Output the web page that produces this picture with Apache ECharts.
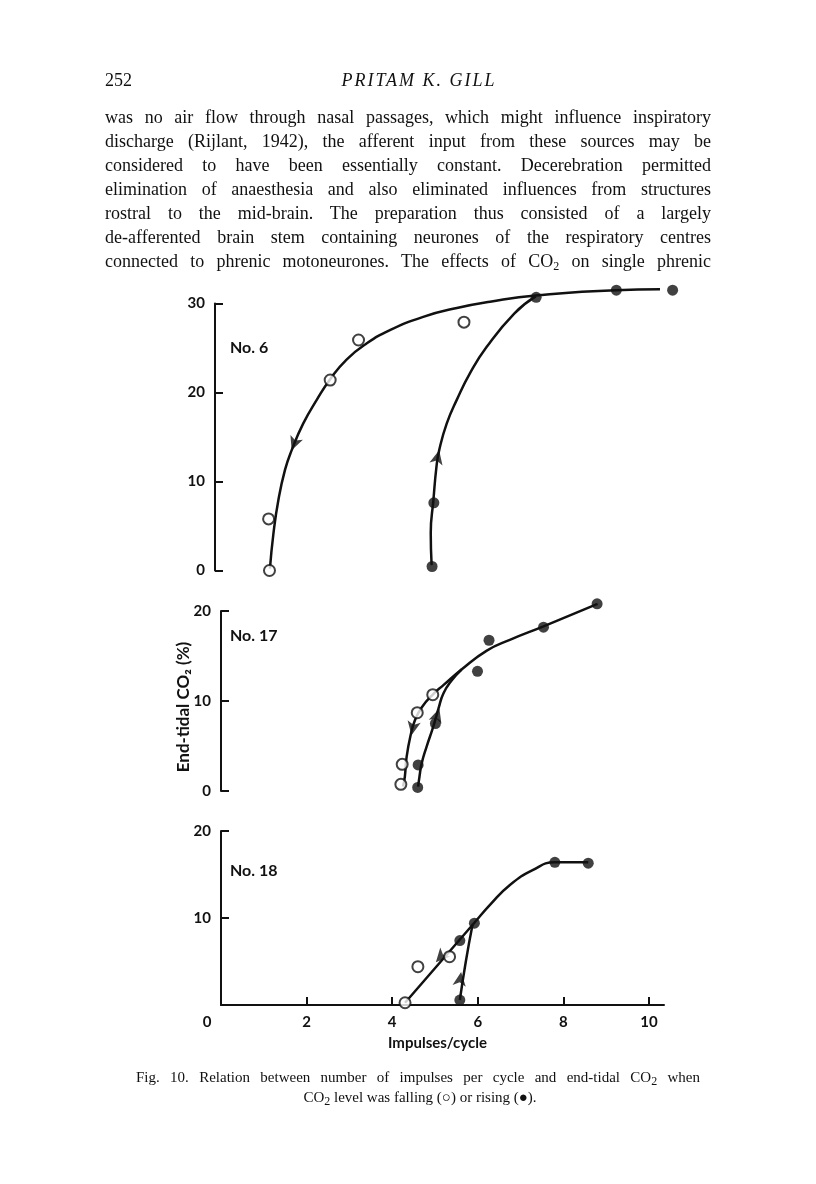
<!DOCTYPE html>
<html>
<head>
<meta charset="utf-8">
<title>Fig. 10</title>
<script src="https://cdn.jsdelivr.net/npm/echarts@6/dist/echarts.min.js"></script>
<style>
body { margin: 0; background: #fff; }
#page { position: relative; width: 816px; height: 1184px; background: #fff; color: #111;
        font-family: "Liberation Serif", "DejaVu Serif", serif; }
#chart { position: absolute; left: 0; top: 0; width: 816px; height: 1184px; }
.txt { position: absolute; font-size: 18px; line-height: 24px; height: 24px; }
.ln { left: 105px; width: 606px; text-align: justify; text-align-last: justify; }
.cap { font-size: 15px; line-height: 20px; height: 20px; }
.sub { font-size: 12px; position: relative; top: 3px; }
</style>
</head>
<body>
<div id="page">
    <div id="chart"></div>
    <div class="txt" style="left:105px;top:68px">252</div>
    <div class="txt" style="left:319px;top:68px;width:200px;text-align:center;font-style:italic;letter-spacing:2px">PRITAM K. GILL</div>
    <div class="txt ln" style="top:105px">was no air flow through nasal passages, which might influence inspiratory</div>
    <div class="txt ln" style="top:129px">discharge (Rijlant, 1942), the afferent input from these sources may be</div>
    <div class="txt ln" style="top:153px">considered to have been essentially constant. Decerebration permitted</div>
    <div class="txt ln" style="top:177px">elimination of anaesthesia and also eliminated influences from structures</div>
    <div class="txt ln" style="top:201px">rostral to the mid-brain. The preparation thus consisted of a largely</div>
    <div class="txt ln" style="top:225px">de-afferented brain stem containing neurones of the respiratory centres</div>
    <div class="txt ln" style="top:249px">connected to phrenic motoneurones. The effects of CO<span class="sub">2</span> on single phrenic</div>
    <div class="txt cap" style="left:136px;top:1067px;width:564px;text-align:justify;text-align-last:justify">Fig. 10. Relation between number of impulses per cycle and end-tidal CO<span class="sub">2</span> when</div>
    <div class="txt cap" style="left:220px;top:1087px;width:400px;text-align:center">CO<span class="sub">2</span> level was falling (&#9675;) or rising (&#9679;).</div>
</div>

<script>
// impulses/cycle (x) vs end-tidal CO2 % (y)

const xTickValues = [2, 4, 6, 8, 10];
const xLabelValues = [0, 2, 4, 6, 8, 10];
const yLabels6 = [0, 10, 20, 30];
const yLabels17 = [0, 10, 20];
const yLabels18 = [10, 20];
const panelNames = ['No. 6', 'No. 17', 'No. 18'];

// No. 6
const fall6 = [[1.23, 0], [1.21, 5.8], [2.60, 21.4], [3.24, 25.9], [5.62, 27.9]];
const rise6 = [[4.90, 0.45], [4.94, 7.6], [7.25, 30.7], [9.06, 31.5], [10.33, 31.5]];
const fallFit6 = [[10.31, 31.6], [9.05, 31.5], [7.24, 30.9], [6.21, 30.2], [5.46, 29.5], [4.70, 28.5],
    [3.95, 27.0], [3.42, 25.5], [2.97, 23.7], [2.60, 21.5], [2.30, 19.2], [1.99, 16.5], [1.73, 13.5],
    [1.58, 11.3], [1.43, 7.9], [1.32, 4.2], [1.24, 0.2]];
const riseFit6 = [[4.89, 0.6], [4.87, 4.2], [4.93, 7.9], [5.00, 11.7], [5.06, 13.5], [5.23, 16.5],
    [5.46, 19.2], [5.76, 22.2], [6.13, 25.1], [6.76, 28.9], [7.24, 30.8]];
const arrows6 = [[1.73, 13.5], [5.06, 13.5]];

// No. 17
const fall17 = [[4.06, 0.74], [4.09, 2.96], [4.43, 8.7], [4.78, 10.7]];
const rise17 = [[4.44, 0.4], [4.45, 2.9], [4.84, 7.5], [5.79, 13.3], [6.05, 16.75], [7.28, 18.2], [8.49, 20.8]];
const fallFit17 = [[8.50, 20.8], [7.28, 18.3], [6.52, 16.8], [6.00, 15.6], [5.43, 13.5], [5.02, 11.76],
    [4.79, 10.76], [4.53, 9.28], [4.38, 7.88], [4.28, 6.2], [4.19, 3.8], [4.15, 1.6], [4.11, 0.5]];
const riseFit17 = [[4.45, 0.48], [4.48, 1.59], [4.53, 3.07], [4.64, 4.91], [4.79, 7.13], [4.91, 9.17],
    [5.02, 10.84], [5.21, 12.3], [5.43, 13.5]];
const arrows17 = [[4.30, 6.2], [4.93, 9.17]];

// No. 18
const fall18 = [[4.30, 0.26], [4.60, 4.4], [5.34, 5.55]];
const rise18 = [[5.58, 0.57], [5.58, 7.4], [5.92, 9.4], [7.80, 16.4], [8.58, 16.3]];
const fallFit18 = [[8.58, 16.4], [7.80, 16.4], [7.28, 15.5], [6.75, 13.8], [6.30, 11.6], [5.91, 9.4],
    [5.10, 4.8], [4.30, 0.26]];
const riseFit18 = [[5.58, 0.57], [5.72, 5.0], [5.88, 9.3]];
const arrows18 = [[5.02, 4.9], [5.61, 3.8]];

const ink = '#111';
const arrowTurn = [[159, -13], [169, -18], [138, -8]];

const grids = [
    { left: 215, top: 303.5, width: 443, height: 267 },
    { left: 221, top: 611, width: 443, height: 180 },
    { left: 221, top: 831, width: 443, height: 174 }
];

const labelFont = { color: ink, fontFamily: 'Lato, "DejaVu Sans", sans-serif', fontWeight: 'bold', fontSize: 15 };

const yAxis = [[30, yLabels6], [20, yLabels17], [20, yLabels18]].map(([max, labels], i) => ({
    type: 'value', gridIndex: i, min: 0, max: max, interval: 10,
    axisLine: { show: true, lineStyle: { color: ink, width: 2 } },
    axisTick: { show: true, inside: true, length: 8, lineStyle: { color: ink, width: 2 } },
    axisLabel: Object.assign({ margin: 10, customValues: labels }, labelFont),
    splitLine: { show: false }
}));
yAxis[1].name = 'End-tidal CO\u2082 (%)';
yAxis[1].nameLocation = 'middle';
yAxis[1].nameGap = 29;
yAxis[1].nameMoveOverlap = false;
yAxis[1].nameTextStyle = Object.assign({}, labelFont, { fontSize: 17, padding: [0, 12, 0, 0] });

const xAxis = [0, 1].map(i => ({ type: 'value', gridIndex: i, min: 0, max: 10, show: false }));
xAxis.push({
    type: 'value', gridIndex: 2, min: 0, max: 10.35, interval: 2,
    axisLine: { show: true, onZero: false, lineStyle: { color: ink, width: 2 } },
    axisTick: { show: true, inside: true, length: 8, customValues: xTickValues, lineStyle: { color: ink, width: 2 } },
    axisLabel: Object.assign({
        margin: 10, customValues: xLabelValues,
        formatter: v => v === 0 ? '{z|0}' : String(v),
        rich: { z: Object.assign({ padding: [0, 28, 0, 0] }, labelFont) }
    }, labelFont),
    splitLine: { show: false },
    name: 'Impulses/cycle', nameLocation: 'middle', nameGap: 31, nameMoveOverlap: false,
    nameTextStyle: Object.assign({ padding: [0, 10, 0, 0] }, labelFont)
});

const panels = [
    [fall6, rise6, fallFit6, riseFit6, arrows6],
    [fall17, rise17, fallFit17, riseFit17, arrows17],
    [fall18, rise18, fallFit18, riseFit18, arrows18]
];

let series = [];
panels.forEach(([fall, rise, fallFit, riseFit, arrows], i) => {
    const ax = { xAxisIndex: i, yAxisIndex: i, clip: false, silent: true };
    [fallFit, riseFit].forEach(fit => series.push(Object.assign({
        type: 'line', data: fit, smooth: 0.5, symbol: 'none', z: 2,
        lineStyle: { color: ink, width: 2.5 }
    }, ax)));
    series.push(Object.assign({
        type: 'scatter', data: arrows.map((p, k) => ({ value: p, symbolRotate: arrowTurn[i][k] })),
        symbol: 'arrow', symbolSize: [10, 14], itemStyle: { color: ink }, z: 3
    }, ax));
    series.push(Object.assign({
        type: 'scatter', data: fall, symbol: 'circle', symbolSize: 11, z: 4,
        itemStyle: { color: '#fff', borderColor: ink, borderWidth: 2 }
    }, ax));
    series.push(Object.assign({
        type: 'scatter', data: rise, symbol: 'circle', symbolSize: 11, z: 4,
        itemStyle: { color: ink }
    }, ax));
});

const titleTops = [340, 628, 863];
const titles = panelNames.map((t, i) => ({
    text: t, left: 230, top: titleTops[i], padding: 0,
    textStyle: Object.assign({}, labelFont, { fontSize: 16 })
}));

const chart = echarts.init(document.getElementById('chart'), null, { renderer: 'canvas' });
chart.setOption({
    animation: false,
    backgroundColor: 'transparent',
    title: titles,
    grid: grids.map(g => Object.assign({ containLabel: false, outerBoundsMode: 'none' }, g)),
    xAxis: xAxis,
    yAxis: yAxis,
    series: series
});
</script>
</body>
</html>
